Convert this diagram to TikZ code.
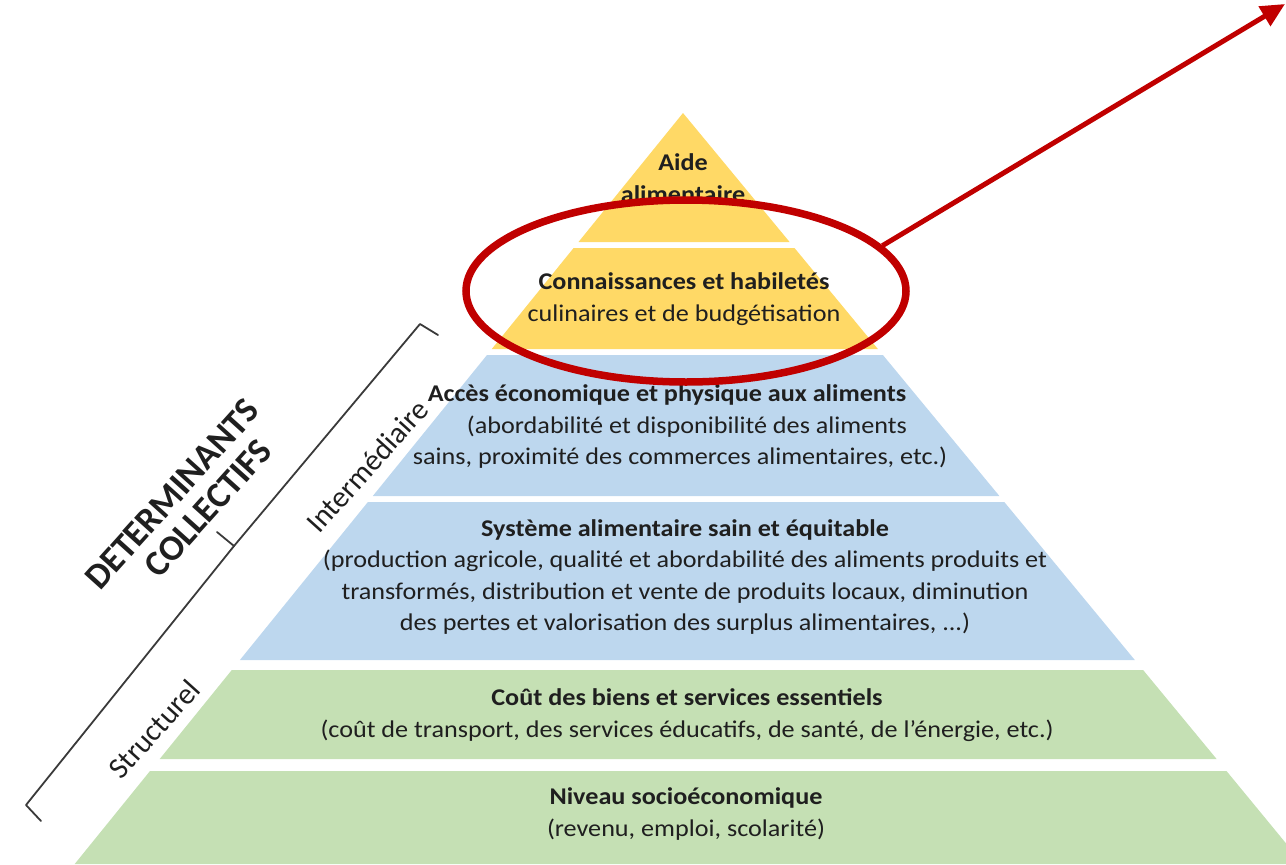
\documentclass[tikz,border=0pt]{standalone}
\usepackage{fontspec}
\setmainfont{Carlito}
\newfontfamily\pyrfont{Carlito}[FakeStretch=1.09]
\usetikzlibrary{arrows.meta,shapes.geometric}
\definecolor{ylw}{HTML}{FFD966}
\definecolor{blu}{HTML}{BDD7EE}
\definecolor{grn}{HTML}{C5E0B4}
\definecolor{redc}{HTML}{C00000}
\definecolor{txt}{HTML}{1F1F1F}
\definecolor{brc}{HTML}{3A3A3A}
\begin{document}
\begin{tikzpicture}[x=1pt,y=-1pt,
  lbl/.style={align=center, text=txt, inner sep=0pt, font=\pyrfont\fontsize{24}{31.5}\selectfont},
  sidebig/.style={text=txt, inner sep=0pt, rotate=48, font=\fontsize{36}{40}\selectfont\bfseries},
  sidesmall/.style={text=txt, inner sep=0pt, rotate=48, font=\fontsize{30}{34}\selectfont},
  brace/.style={draw=brc, line width=1.8pt, line join=round, line cap=round},
  highlight/.style={ellipse, draw=redc, line width=7.5pt, inner sep=0pt, minimum width=440pt, minimum height=182pt},
  pointer/.style={draw=redc, line width=5pt, -{Triangle[length=24pt,width=22pt]}}]
\useasboundingbox (0,0) rectangle (1286,865);
% pyramid layers
\fill[ylw] (683,113) -- (789.6,242) -- (578.5,242) -- cycle;
\fill[ylw] (573.6,248) -- (794.5,248) -- (877.9,349) -- (491.8,349) -- cycle;
\fill[blu] (487,355) -- (882.9,355) -- (999.4,496) -- (372.8,496) -- cycle;
\fill[blu] (367.9,502) -- (1004.3,502) -- (1134.8,660) -- (239.9,660) -- cycle;
\fill[grn] (231.8,670) -- (1143.1,670) -- (1216.6,759) -- (159.7,759) -- cycle;
\fill[grn] (150,771) -- (1226.5,771) -- (1303,864) -- (74.7,864) -- cycle;
% layer texts
\node[lbl] (aide) at (683,178) {\textbf{Aide}\\\textbf{alimentaire}};
\node[lbl] (conn) at (684,299) {\textbf{Connaissances et habiletés}\\culinaires et de budgétisation};
\node[lbl] (acces) at (680,427) {\textbf{Accès économique et physique aux aliments}\hspace*{26pt}\\\hspace*{14pt}(abordabilité et disponibilité des aliments\\sains, proximité des commerces alimentaires, etc.)};
\node[lbl] (syst) at (685,577) {\textbf{Système alimentaire sain et équitable}\\(production agricole, qualité et abordabilité des aliments produits et\\transformés, distribution et vente de produits locaux, diminution\\des pertes et valorisation des surplus alimentaires, ...)};
\node[lbl] (cout) at (687,715) {\textbf{Coût des biens et services essentiels}\\(coût de transport, des services éducatifs, de santé, de l’énergie, etc.)};
\node[lbl] (niv) at (686,814) {\textbf{Niveau socioéconomique}\\(revenu, emploi, scolarité)};
% side brace and labels
\coordinate (bA) at (438,335);
\coordinate (bB) at (420,324);
\coordinate (bM) at (234,546);
\coordinate (bT) at (217,532);
\coordinate (bC) at (26,805);
\coordinate (bD) at (41,821);
\draw[brace] (bA) -- (bB) -- (bM) -- (bC) -- (bD);
\draw[brace] (bM) -- (bT);
\node[sidebig] (det) at (172,494) {DETERMINANTS};
\node[sidebig] (coll) at (208,508) {COLLECTIFS};
\node[sidesmall] (inter) at (367,466) {Intermédiaire};
\node[sidesmall] (struct) at (154,729) {Structurel};
% highlight and pointer
\node[highlight] (ell) at (686,291) {};
\coordinate (tip) at (1285,4);
\draw[pointer] (ell.13) -- (tip);
\end{tikzpicture}
\end{document}
